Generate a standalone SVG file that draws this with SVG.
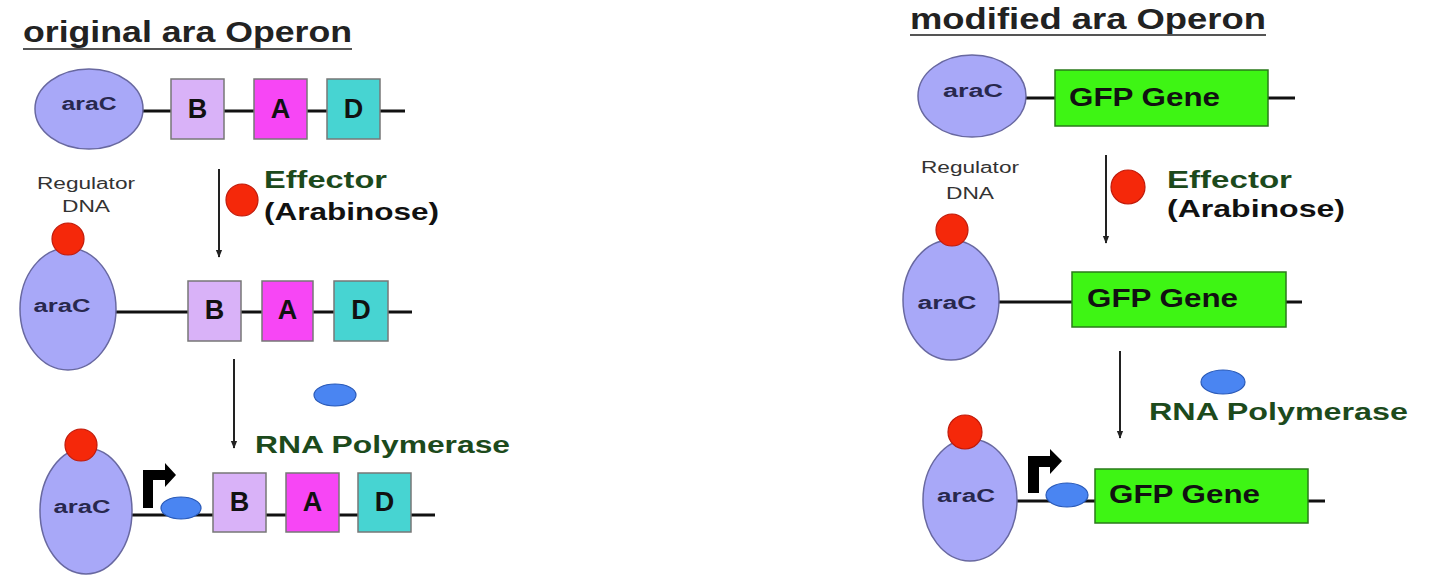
<svg xmlns="http://www.w3.org/2000/svg" width="1440" height="581" viewBox="0 0 1440 581">
<defs>
<style>
text{font-family:"Liberation Sans",Arial,sans-serif}
.title{font-size:29px;font-weight:bold;fill:#222}
.ul{stroke:#555;stroke-width:2}
.arac{fill:#a8a8f8;stroke:#6868a0;stroke-width:1.5}
.aract{font-size:18px;font-weight:bold;fill:#28284e;text-anchor:middle}
.dna{stroke:#111;stroke-width:3;fill:none}
.b{fill:#d9b2f8;stroke:#777;stroke-width:1.5}
.a{fill:#f746f5;stroke:#777;stroke-width:1.5}
.d{fill:#47d4d2;stroke:#777;stroke-width:1.5}
.gfp{fill:#3ef514;stroke:#2a7a1a;stroke-width:1.5}
.lt{font-size:27px;font-weight:bold;fill:#111;text-anchor:middle}
.gt{font-size:25px;font-weight:bold;fill:#111}
.red{fill:#f5280a;stroke:#c01a0a;stroke-width:1.2}
.pol{fill:#4a85f2;stroke:#2a5ab8;stroke-width:1.2}
.reg{font-size:16px;fill:#333;text-anchor:middle}
.grn{font-size:23px;font-weight:bold;fill:#1c4a1c}
.blk{font-size:23px;font-weight:bold;fill:#111}
.arrow{stroke:#222;stroke-width:2;fill:none;marker-end:url(#ah)}
.prom{fill:#000}
</style>
<marker id="ah" viewBox="0 0 10 10" refX="9" refY="5" markerWidth="4" markerHeight="5" orient="auto" markerUnits="strokeWidth">
<path d="M0,1 L10,5 L0,9 z" fill="#222"/>
</marker>
</defs>
<rect width="1440" height="581" fill="#fff"/>

<!-- Titles -->
<g id="title-left">
<text class="title" x="23" y="42" textLength="329" lengthAdjust="spacingAndGlyphs">original ara Operon</text>
<line class="ul" x1="23" y1="49" x2="352" y2="49"/>
</g>
<g id="title-right">
<text class="title" x="910" y="29" textLength="356" lengthAdjust="spacingAndGlyphs">modified ara Operon</text>
<line class="ul" x1="910" y1="35" x2="1266" y2="35"/>
</g>

<!-- Connectors -->
<g id="connectors">
<line class="arrow" x1="219" y1="169" x2="219" y2="257"/>
<line class="arrow" x1="234" y1="359" x2="234" y2="448"/>
<line class="arrow" x1="1106" y1="155" x2="1106" y2="243"/>
<line class="arrow" x1="1120" y1="351" x2="1120" y2="438"/>
</g>

<!-- LEFT: row 1 -->
<g id="left-row1">
<line class="dna" x1="140" y1="111" x2="405" y2="111"/>
<ellipse class="arac" cx="89" cy="109" rx="54" ry="40"/>
<text class="aract" x="89" y="110" textLength="55" lengthAdjust="spacingAndGlyphs">araC</text>
<rect class="b" x="171" y="79" width="53" height="60"/>
<text class="lt" x="197.5" y="118">B</text>
<rect class="a" x="254" y="79" width="53" height="60"/>
<text class="lt" x="280.5" y="118">A</text>
<rect class="d" x="327" y="79" width="53" height="60"/>
<text class="lt" x="353.5" y="118">D</text>
</g>

<g id="left-regulator">
<text class="reg" x="86" y="189" textLength="98" lengthAdjust="spacingAndGlyphs">Regulator</text>
<text class="reg" x="86" y="212" textLength="48" lengthAdjust="spacingAndGlyphs">DNA</text>
</g>

<g id="left-effector">
<circle class="red" cx="242" cy="200" r="16"/>
<text class="grn" x="264" y="188" textLength="123" lengthAdjust="spacingAndGlyphs">Effector</text>
<text class="blk" x="264" y="220" textLength="175" lengthAdjust="spacingAndGlyphs">(Arabinose)</text>
</g>

<!-- LEFT: row 2 -->
<g id="left-row2">
<line class="dna" x1="114" y1="312" x2="412" y2="312"/>
<ellipse class="arac" cx="68" cy="309" rx="48" ry="61"/>
<circle class="red" cx="68" cy="239" r="16"/>
<text class="aract" x="62" y="312" textLength="57" lengthAdjust="spacingAndGlyphs">araC</text>
<rect class="b" x="188" y="281" width="53" height="60"/>
<text class="lt" x="214.5" y="319">B</text>
<rect class="a" x="262" y="281" width="51" height="60"/>
<text class="lt" x="287.5" y="319">A</text>
<rect class="d" x="334" y="281" width="54" height="60"/>
<text class="lt" x="361" y="319">D</text>
</g>

<g id="left-polymerase">
<ellipse class="pol" cx="335" cy="395" rx="21" ry="11"/>
<text class="grn" x="255" y="453" textLength="255" lengthAdjust="spacingAndGlyphs">RNA Polymerase</text>
</g>

<!-- LEFT: row 3 -->
<g id="left-row3">
<line class="dna" x1="130" y1="515" x2="435" y2="515"/>
<ellipse class="arac" cx="86" cy="511" rx="46" ry="63"/>
<circle class="red" cx="81" cy="445" r="16"/>
<text class="aract" x="82" y="513" textLength="57" lengthAdjust="spacingAndGlyphs">araC</text>
<polygon class="prom" points="143,508 153,508 153,480 165,480 165,487 176,475 165,463 165,470 143,470"/>
<ellipse class="pol" cx="181" cy="508" rx="20" ry="11"/>
<rect class="b" x="213" y="473" width="53" height="59"/>
<text class="lt" x="239.5" y="511">B</text>
<rect class="a" x="286" y="473" width="53" height="59"/>
<text class="lt" x="312.5" y="511">A</text>
<rect class="d" x="358" y="473" width="53" height="59"/>
<text class="lt" x="384.5" y="511">D</text>
</g>

<!-- RIGHT: row 1 -->
<g id="right-row1">
<line class="dna" x1="1025" y1="98" x2="1295" y2="98"/>
<ellipse class="arac" cx="972" cy="96" rx="54" ry="41"/>
<text class="aract" x="973" y="97" textLength="60" lengthAdjust="spacingAndGlyphs">araC</text>
<rect class="gfp" x="1055" y="70" width="213" height="56"/>
<text class="gt" x="1069" y="106" textLength="151" lengthAdjust="spacingAndGlyphs">GFP Gene</text>
</g>

<g id="right-regulator">
<text class="reg" x="970" y="173" textLength="98" lengthAdjust="spacingAndGlyphs">Regulator</text>
<text class="reg" x="970" y="199" textLength="48" lengthAdjust="spacingAndGlyphs">DNA</text>
</g>

<g id="right-effector">
<circle class="red" cx="1128" cy="187" r="17"/>
<text class="grn" x="1167" y="188" textLength="125" lengthAdjust="spacingAndGlyphs">Effector</text>
<text class="blk" x="1167" y="217" textLength="178" lengthAdjust="spacingAndGlyphs">(Arabinose)</text>
</g>

<!-- RIGHT: row 2 -->
<g id="right-row2">
<line class="dna" x1="998" y1="302" x2="1302" y2="302"/>
<ellipse class="arac" cx="951" cy="300" rx="48" ry="60"/>
<circle class="red" cx="952" cy="230" r="16"/>
<text class="aract" x="947" y="309" textLength="59" lengthAdjust="spacingAndGlyphs">araC</text>
<rect class="gfp" x="1072" y="272" width="214" height="55"/>
<text class="gt" x="1087" y="307" textLength="151" lengthAdjust="spacingAndGlyphs">GFP Gene</text>
</g>

<g id="right-polymerase">
<ellipse class="pol" cx="1223" cy="382" rx="22" ry="12"/>
<text class="grn" x="1149" y="420" textLength="259" lengthAdjust="spacingAndGlyphs">RNA Polymerase</text>
</g>

<!-- RIGHT: row 3 -->
<g id="right-row3">
<line class="dna" x1="1015" y1="501" x2="1325" y2="501"/>
<ellipse class="arac" cx="970" cy="500" rx="47" ry="61"/>
<circle class="red" cx="965" cy="432" r="17"/>
<text class="aract" x="966" y="502" textLength="58" lengthAdjust="spacingAndGlyphs">araC</text>
<polygon class="prom" points="1028,493 1039,493 1039,467 1050,467 1050,474 1062,461 1050,449 1050,456 1028,456"/>
<ellipse class="pol" cx="1067" cy="495" rx="21" ry="12"/>
<rect class="gfp" x="1095" y="469" width="213" height="54"/>
<text class="gt" x="1109" y="503" textLength="151" lengthAdjust="spacingAndGlyphs">GFP Gene</text>
</g>
</svg>
